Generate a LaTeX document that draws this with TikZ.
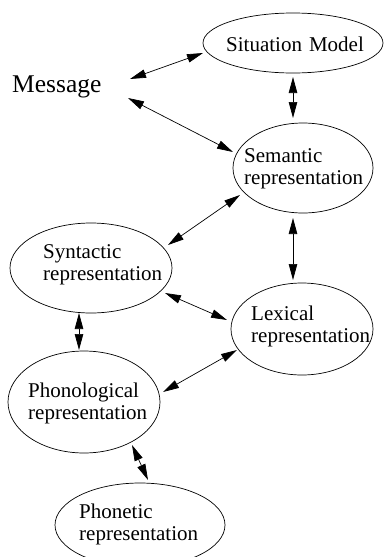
\documentclass[tikz,border=0pt]{standalone}
\usepackage{fontspec}
\setmainfont{Liberation Serif}
\usetikzlibrary{arrows.meta,calc,shapes.geometric}
\begin{document}
\begin{tikzpicture}[x=1pt,y=-1pt,
  ell/.style={draw,ellipse,line width=0.7pt,inner sep=0pt},
  lbl/.style={anchor=base west,inner sep=0pt,text width=150pt,align=left,
    font=\fontsize{21}{22.5}\selectfont},
  arr/.style={line width=0.7pt,{Triangle[length=16pt,width=8.5pt]}-{Triangle[length=16pt,width=8.5pt]}}]
\useasboundingbox (0,0) rectangle (383,557);
% ellipses
\node[ell,minimum width=180pt,minimum height=60pt] (sit) at (293,43) {};
\node[ell,minimum width=140pt,minimum height=90pt] (sem) at (303,168) {};
\node[ell,minimum width=162pt,minimum height=90pt] (syn) at (91,268) {};
\node[ell,minimum width=142pt,minimum height=92pt] (lex) at (302,329) {};
\node[ell,minimum width=152pt,minimum height=102pt] (pho) at (84,402) {};
\node[ell,minimum width=170pt,minimum height=84pt] (phn) at (140,525) {};
% texts
\node[anchor=base west,inner sep=0pt,font=\fontsize{25.5}{27}\selectfont] (msg) at (12,92) {Message};
\node[lbl] (sitt) at (226,51) {Situation Model};
\node[lbl] (semt) at (244,162) {Semantic\\representation};
\node[lbl] (synt) at (43,258) {Syntactic\\representation};
\node[lbl] (lext) at (251,320) {Lexical\\representation};
\node[lbl] (phot) at (28,397) {Phonological\\representation};
\node[lbl] (phnt) at (79,518) {Phonetic\\representation};
% connectors
\draw[arr] ($(msg.base west)+(118,-13)$) -- ($(sit)+(-90,10)$);
\draw[arr] ($(msg.base west)+(116,6)$) -- ($(sem)+(-70,-16)$);
\draw[arr] ($(sit)+(0,34)$) -- ($(sem)+(-10,-50)$);
\draw[arr] ($(sem)+(-63,27)$) -- ($(syn)+(77,-23)$);
\draw[arr] ($(sem)+(-10,50)$) -- ($(lex)+(-9,-49)$);
\draw[arr] ($(syn)+(74,25)$) -- ($(lex)+(-75,-9)$);
\draw[arr] ($(syn)+(-12,45)$) -- ($(pho)+(-5,-52)$);
\draw[arr] ($(lex)+(-65,21)$) -- ($(pho)+(79,-10)$);
\draw[arr] ($(pho)+(48,43)$) -- ($(phn)+(8,-45)$);
\end{tikzpicture}
\end{document}
